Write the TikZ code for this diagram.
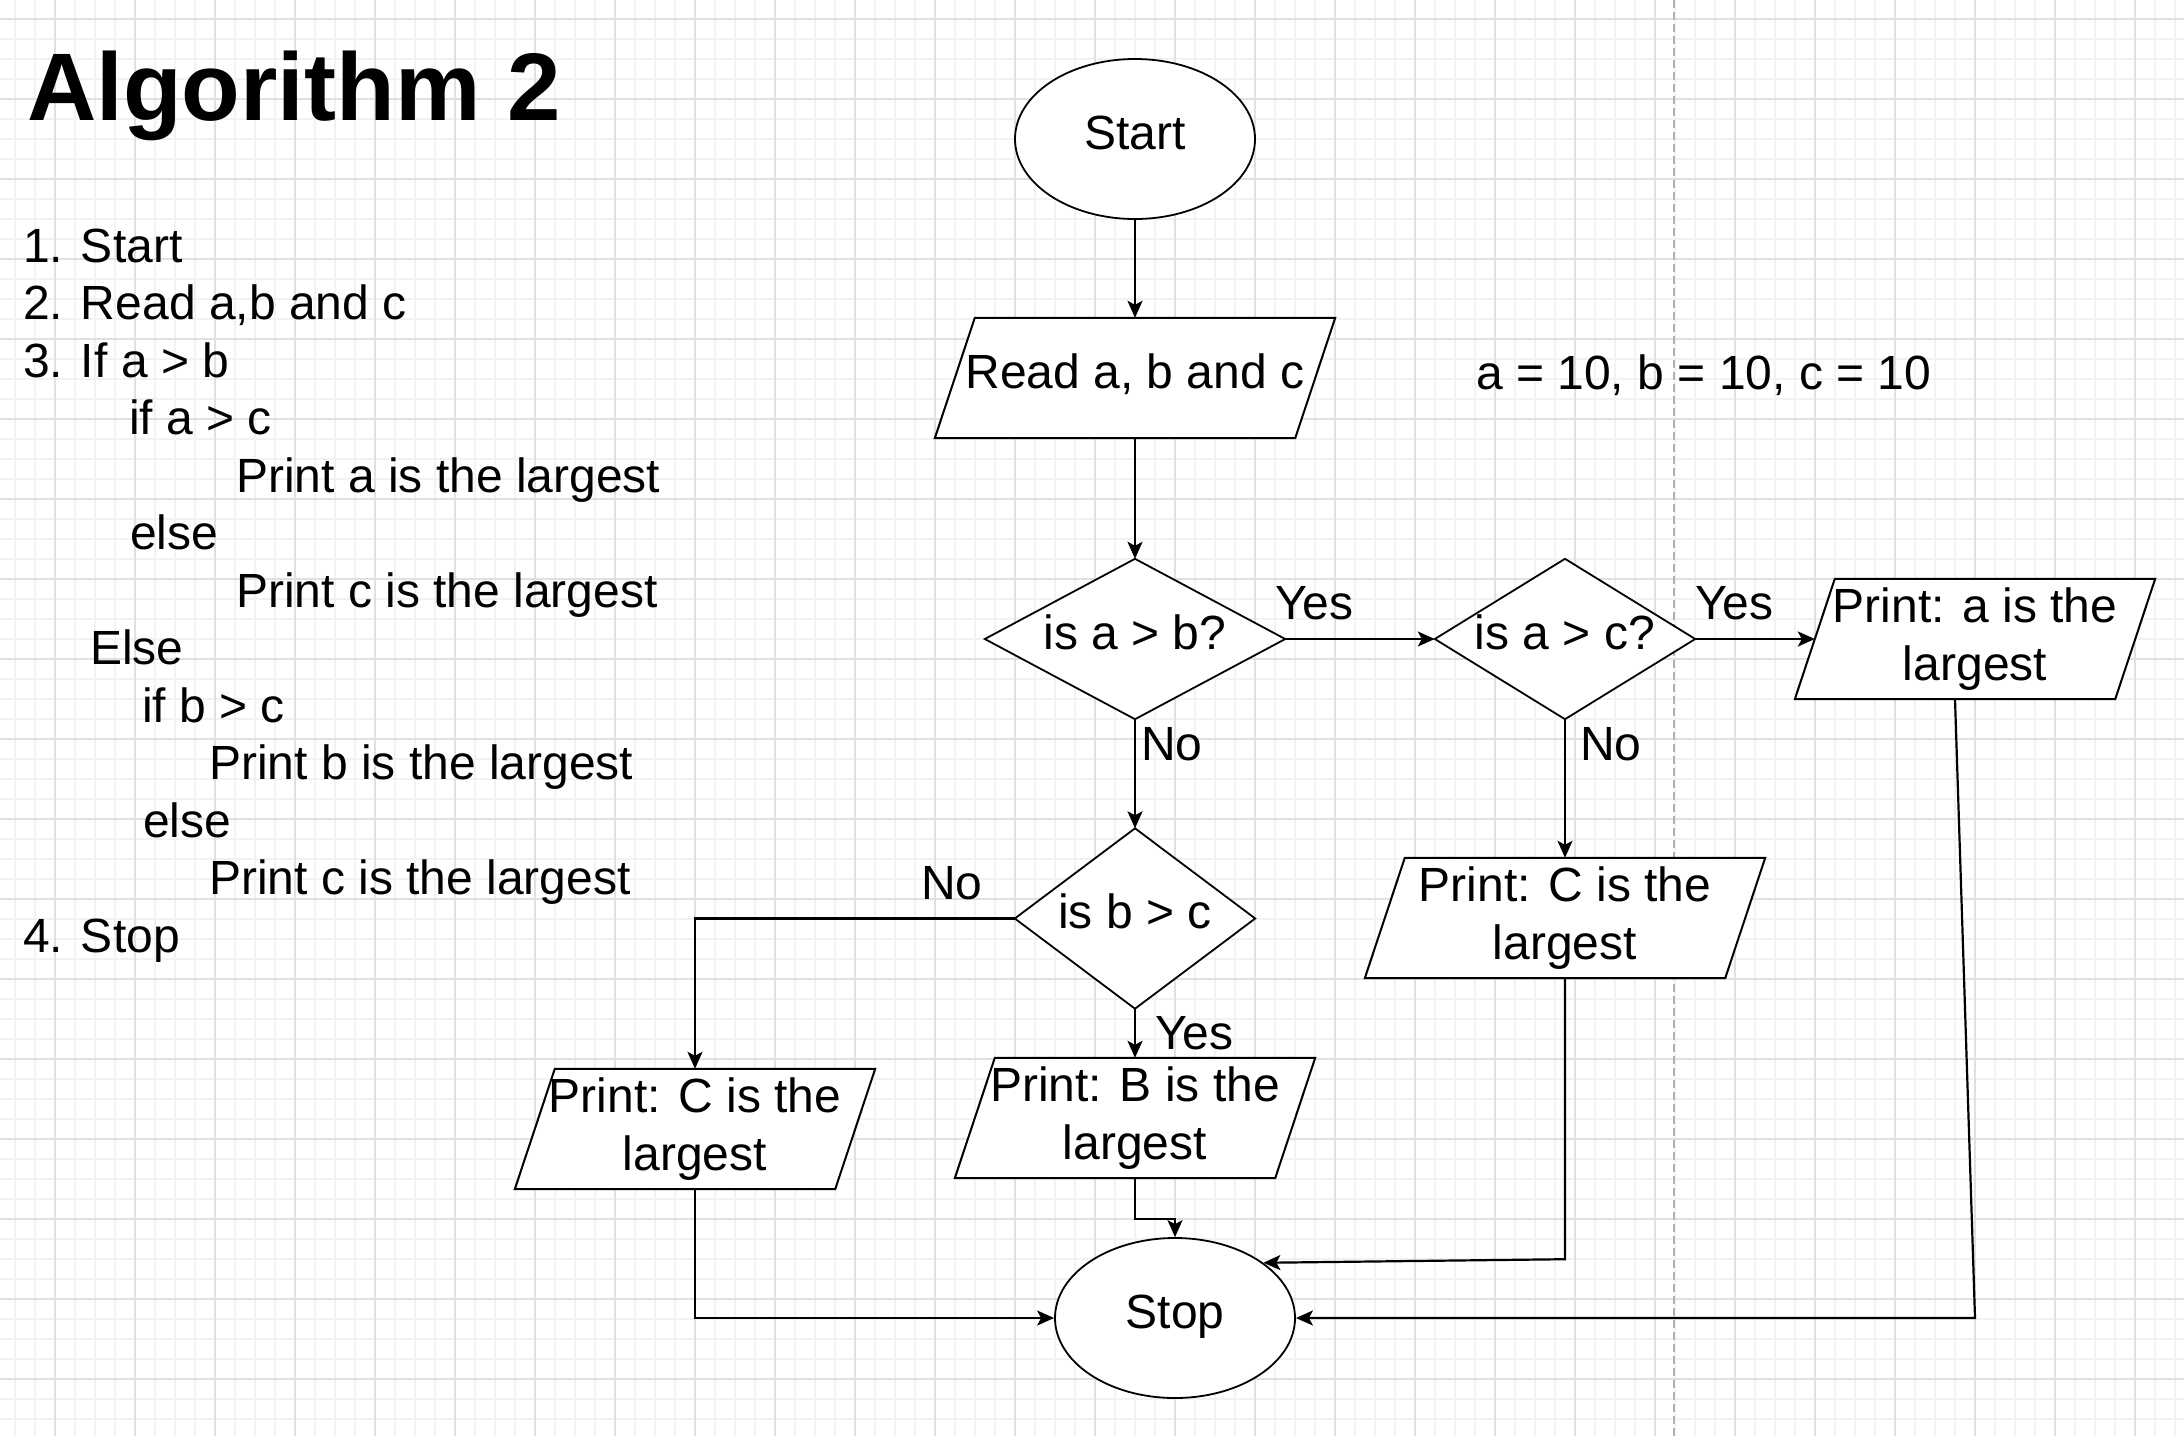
\documentclass[tikz,border=0pt]{standalone}
\usepackage{fontspec}
\setmainfont{Liberation Sans}
\usetikzlibrary{arrows.meta,shapes.geometric,calc}
\pgfdeclarelayer{gridlayer}
\pgfdeclarelayer{shapelayer}
\pgfsetlayers{gridlayer,shapelayer,main}
\tikzset{
  txt/.style={inner sep=0pt, anchor=base west, font=\fontsize{48}{57.5}\selectfont},
  one/.style={inner sep=0pt, font=\fontsize{48}{57.5}\selectfont, text height=34pt, text depth=14pt},
  two/.style={inner sep=0pt, font=\fontsize{48}{57.5}\selectfont, align=center},
  shp/.style={draw=black, line width=2pt, fill=white, line join=miter},
  arr/.style={draw=black, line width=2.2pt, -{Stealth[length=17pt,width=15pt,inset=4pt]}},
  ell/.style={ellipse, draw=black, line width=1.8pt, fill=white, minimum width=240pt, minimum height=160pt},
  minorgrid/.style={draw=black!5, line width=1.5pt},
  majorgrid/.style={draw=black!12, line width=1.5pt},
  pagebreak/.style={draw=black!30, line width=1.5pt, dash pattern=on 8pt off 4pt}
}
\begin{document}
\begin{tikzpicture}[x=1pt,y=-1pt]
\useasboundingbox (0,0) rectangle (2184,1436);
\begin{pgfonlayer}{gridlayer}
  \fill[white] (0,0) rectangle (2184,1436);
  \foreach \x in {15,35,...,2175} \draw[minorgrid] (\x,0) -- (\x,1436);
  \foreach \y in {19,39,...,1419} \draw[minorgrid] (0,\y) -- (2184,\y);
  \foreach \x in {55,135,...,2135} \draw[majorgrid] (\x,0) -- (\x,1436);
  \foreach \y in {19,99,...,1379} \draw[majorgrid] (0,\y) -- (2184,\y);
  \draw[pagebreak] (1674,0) -- (1674,1436);
\end{pgfonlayer}

% title and algorithm text
\node[inner sep=0pt, anchor=base west, font=\fontsize{96}{115}\selectfont\bfseries] (title) at (27,120) {Algorithm 2};
\node[txt] (s1) at (23,262) {1. Start};
\node[txt] (s2) at (23,319.5) {2. Read a,b and c};
\node[txt] (s3) at (23,377) {3. If a > b};
\node[txt] (s4) at (129,434) {if a > c};
\node[txt] (s5) at (236,492) {Print a is the largest};
\node[txt] (s6) at (130,549) {else};
\node[txt] (s7) at (236,607) {Print c is the largest};
\node[txt] (s8) at (90,664) {Else};
\node[txt] (s9) at (142,722) {if b > c};
\node[txt] (s10) at (209,779) {Print b is the largest};
\node[txt] (s11) at (143,837) {else};
\node[txt] (s12) at (209,894) {Print c is the largest};
\node[txt] (s13) at (23,952) {4. Stop};
\node[txt] (vals) at (1476,389) {a = 10, b = 10, c = 10};

% flowchart nodes
\node[ell, one] (start) at (1135,139) {Start};
\node[one, minimum width=400pt, minimum height=120pt] (read) at (1135,378) {Read a, b and c};
\node[one, minimum width=300pt, minimum height=160pt] (d1) at (1135,639) {is a > b?};
\node[one, minimum width=260pt, minimum height=160pt] (d2) at (1565,639) {is a > c?};
\node[one, minimum width=240pt, minimum height=180pt] (d3) at (1135,918.5) {is b > c};
\node[two, minimum width=360pt, minimum height=120pt] (printa) at (1975,639) {Print: a is the\\largest};
\node[two, minimum width=400pt, minimum height=120pt] (printcr) at (1565,918) {Print: C is the\\largest};
\node[two, minimum width=360pt, minimum height=120pt] (printb) at (1135,1118) {Print: B is the\\largest};
\node[two, minimum width=360pt, minimum height=120pt] (printcl) at (695,1129) {Print: C is the\\largest};
\node[ell, one] (stop) at (1175,1318) {Stop};

\begin{pgfonlayer}{shapelayer}
  \foreach \n in {read,printa,printcr,printb,printcl}
    \draw[shp] ([xshift=40pt]\n.north west) -- (\n.north east) -- ([xshift=-40pt]\n.south east) -- (\n.south west) -- cycle;
  \foreach \n in {d1,d2,d3}
    \draw[shp, line width=1.8pt] (\n.north) -- (\n.east) -- (\n.south) -- (\n.west) -- cycle;
\end{pgfonlayer}

% labels
\node[txt] (yes1) at (1275,619) {Yes};
\node[txt] (yes2) at (1695,619) {Yes};
\node[txt] (no1) at (1141,760) {No};
\node[txt] (no2) at (1580,760) {No};
\node[txt] (no3) at (921,899) {No};
\node[txt] (yes3) at (1155,1049) {Yes};

% connectors
\draw[arr] (start.south) -- (read.north);
\draw[arr] (read.south) -- (d1.north);
\draw[arr] (d1.east) -- (d2.west);
\draw[arr] (d2.east) -- ([xshift=20pt]printa.west);
\draw[arr] (d1.south) -- (d3.north);
\draw[arr] (d2.south) -- (printcr.north);
\draw[arr] (d3.south) -- (printb.north);
\draw[arr] (d3.west) -| (printcl.north);
\draw[arr] (printb.south) -- ++(0,41) -| (stop.north);
\draw[arr] (printcl.south) |- (stop.west);
\draw[arr] (printcr.south) -- ++(0,281) -- (stop.32);
\coordinate (pa) at ([xshift=-20pt]printa.south);
\draw[arr] (pa) -- (printa.south |- stop.east) -- (stop.east);
\end{tikzpicture}
\end{document}
